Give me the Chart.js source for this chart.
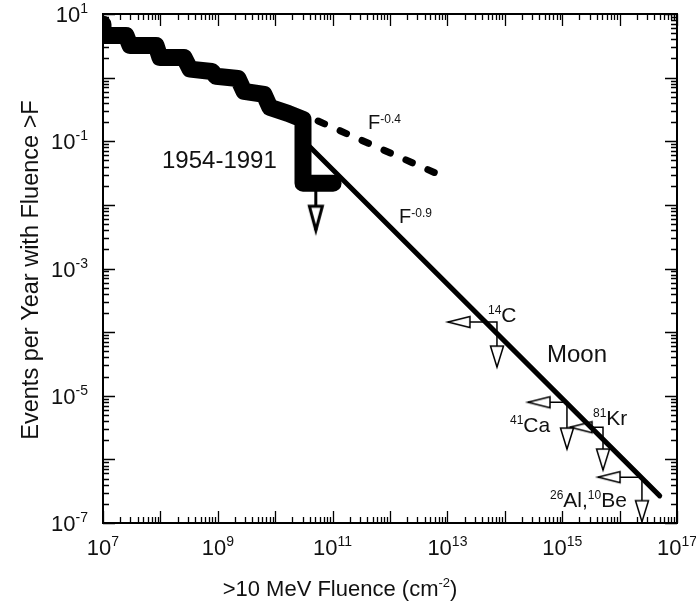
<!DOCTYPE html>
<html>
<head>
<meta charset="utf-8">
<script src="https://cdn.jsdelivr.net/npm/chart.js@4.4.0/dist/chart.umd.min.js"></script>
<style>
    html, body { margin: 0; padding: 0; background: #fff; }
    #wrap { width: 696px; height: 607px; }
</style>
</head>
<body>
<div id="wrap"><canvas id="fluenceChart"></canvas></div>
<script>
// Observed event record 1954-1991, drawn as a thick step outline
const obsFluence = [1e7, 1e7, 2.52e7, 2.95e7, 8.4e7, 9.8e7, 2.58e8, 3.28e8, 7.9e8, 9.3e8,
    2.25e9, 2.86e9, 6.4e9, 8.1e9, 1.67e10, 3.05e10, 3.05e10, 1.02e11];
const obsRate = [6.9, 4.6, 4.6, 3.2, 3.2, 2.08, 2.08, 1.36, 1.25, 1.05,
    0.97, 0.61, 0.545, 0.34, 0.274, 0.22, 0.0218, 0.0218];

// Upper limit under the last observed step
const limitFluence = [5.1e10, 5.1e10];
const limitRate = [0.0218, 0.0040];

// Power-law fits
const shallowFluence = [5.6e10, 7.4e12];   // F^-0.4
const shallowRate = [0.208, 0.0295];
const steepFluence = [3.05e10, 5.0e16];    // F^-0.9
const steepRate = [0.1045, 2.67e-7];

// Lunar radionuclide limits: corner point, left-arrow tip, down-arrow tip
const nuclides = ['14C', '41Ca', '81Kr', '26Al,10Be'];
const cornerFluence = [7.3e13, 1.21e15, 5.14e15, 2.45e16];
const cornerRate = [1.44e-4, 7.9e-6, 3.2e-6, 5.25e-7];
const leftTipFluence = [1.02e13, 2.53e14, 1.37e15, 4.21e15];
const downTipRate = [2.82e-5, 1.45e-6, 6.8e-7, 1.05e-7];

// Axis decades and labelled exponents
const xDecades = [7, 8, 9, 10, 11, 12, 13, 14, 15, 16, 17];
const yDecades = [-7, -6, -5, -4, -3, -2, -1, 0, 1];
const xLabelExps = [7, 9, 11, 13, 15, 17];
const yLabelExps = [1, -1, -3, -5, -7];

const FONT = '"Liberation Sans", Arial, Helvetica, sans-serif';
const font = size => `${size}px ${FONT}`;

// open arrowhead with its tip at the canvas centre
function arrowHead(dir, len, wid, lw) {
    const size = 2 * Math.ceil(len + lw + 2);
    const c = document.createElement('canvas');
    c.width = c.height = size;
    const g = c.getContext('2d');
    const m = size / 2;
    g.beginPath();
    if (dir === 'down') {
        g.moveTo(m, m);
        g.lineTo(m - wid / 2, m - len);
        g.lineTo(m + wid / 2, m - len);
    } else {
        g.moveTo(m, m);
        g.lineTo(m + len, m - wid / 2);
        g.lineTo(m + len, m + wid / 2);
    }
    g.closePath();
    g.fillStyle = '#fff';
    g.fill();
    g.lineWidth = lw;
    g.strokeStyle = '#000';
    g.stroke();
    return c;
}

const bigDown = arrowHead('down', 24, 13, 3);
const smallDown = arrowHead('down', 21, 13, 1.5);
const smallLeft = arrowHead('left', 22, 11, 1.5);

const pts = (xs, ys) => xs.map((x, i) => ({ x: x, y: ys[i] }));

// text with superscript pieces: parts = [[text, isSup], ...]
function richText(ctx, x, y, parts, size, align, supRatio = 0.6, raise = 0.38) {
    const supSize = Math.round(size * supRatio);
    const widths = parts.map(([t, sup]) => {
        ctx.font = font(sup ? supSize : size);
        return ctx.measureText(t).width;
    });
    const total = widths.reduce((a, b) => a + b, 0);
    let cx = align === 'center' ? x - total / 2 : align === 'right' ? x - total : x;
    ctx.textAlign = 'left';
    ctx.textBaseline = 'alphabetic';
    parts.forEach(([t, sup], i) => {
        ctx.font = font(sup ? supSize : size);
        ctx.fillText(t, cx, sup ? y - size * raise : y);
        cx += widths[i];
    });
}

// Frame with inward ticks on all four sides
const framePlugin = {
    id: 'frame',
    beforeDatasetsDraw(chart) {
        const { ctx, chartArea: { left, right, top, bottom } } = chart;
        const xs = chart.scales.x, ys = chart.scales.y;
        ctx.save();
        ctx.strokeStyle = '#000';
        ctx.lineWidth = 1.3;
        ctx.beginPath();
        xDecades.forEach(e => {
            for (let m = 1; m < 10; m++) {
                if (e === 17 && m > 1) break;
                const px = Math.round(xs.getPixelForValue(m * Math.pow(10, e))) + 0.5;
                const len = m === 1 ? 12 : 6;
                ctx.moveTo(px, bottom); ctx.lineTo(px, bottom - len);
                ctx.moveTo(px, top); ctx.lineTo(px, top + len);
            }
        });
        yDecades.forEach(e => {
            for (let m = 1; m < 10; m++) {
                if (e === 1 && m > 1) break;
                const py = Math.round(ys.getPixelForValue(m * Math.pow(10, e))) + 0.5;
                const len = m === 1 ? 12 : 6;
                ctx.moveTo(left, py); ctx.lineTo(left + len, py);
                ctx.moveTo(right, py); ctx.lineTo(right - len, py);
            }
        });
        ctx.stroke();
        ctx.lineWidth = 2;
        ctx.strokeRect(left, top, right - left, bottom - top);
        ctx.restore();
    }
};

// Tick labels, axis titles and annotations
const textPlugin = {
    id: 'texts',
    afterDraw(chart) {
        const { ctx, chartArea: { left, bottom } } = chart;
        const xs = chart.scales.x, ys = chart.scales.y;
        ctx.save();
        ctx.fillStyle = '#111';

        xLabelExps.forEach(e => {
            const px = xs.getPixelForValue(Math.pow(10, e));
            richText(ctx, px, bottom + 32, [['10', false], [String(e), true]], 22, 'center', 0.62, 0.4);
        });
        yLabelExps.forEach(e => {
            const py = ys.getPixelForValue(Math.pow(10, e));
            const exp = e < 0 ? '-' + (-e) : String(e);
            richText(ctx, left - 15, py + 8, [['10', false], [exp, true]], 22, 'right', 0.62, 0.4);
        });

        richText(ctx, 340, 596, [['>10 MeV Fluence (cm', false], ['-2', true], [')', false]], 22, 'center', 0.58, 0.4);

        ctx.save();
        ctx.translate(32, 270);
        ctx.rotate(-Math.PI / 2);
        ctx.font = font(23.5);
        ctx.textAlign = 'center';
        ctx.textBaseline = 'middle';
        ctx.fillText('Events per Year with Fluence >F', 0, 0);
        ctx.restore();

        ctx.font = font(24);
        ctx.textAlign = 'left';
        ctx.textBaseline = 'alphabetic';
        ctx.fillText('1954-1991', 162, 168);
        ctx.fillText('Moon', 547, 362);

        richText(ctx, 368, 129, [['F', false], ['-0.4', true]], 20, 'left', 0.6, 0.32);
        richText(ctx, 399, 223, [['F', false], ['-0.9', true]], 20, 'left', 0.6, 0.32);
        richText(ctx, 488, 322, [['14', true], ['C', false]], 21, 'left', 0.55, 0.38);
        richText(ctx, 510, 432, [['41', true], ['Ca', false]], 21, 'left', 0.55, 0.38);
        richText(ctx, 593, 425, [['81', true], ['Kr', false]], 21, 'left', 0.55, 0.38);
        richText(ctx, 550, 507, [['26', true], ['Al,', false], ['10', true], ['Be', false]], 21, 'left', 0.55, 0.38);
        ctx.restore();
    }
};

const datasets = [
    {
        label: '1954-1991',
        data: pts(obsFluence, obsRate),
        borderColor: '#000',
        borderWidth: 17,
        borderJoinStyle: 'round',
        borderCapStyle: 'round',
        pointRadius: 0,
        clip: 0
    },
    {
        label: 'limit',
        data: pts(limitFluence, limitRate),
        borderColor: '#000',
        borderWidth: 3,
        pointStyle: ['circle', bigDown],
        pointRadius: [0, 6]
    },
    {
        label: 'F^-0.9',
        data: pts(steepFluence, steepRate),
        borderColor: '#000',
        borderWidth: 5,
        borderCapStyle: 'round',
        pointRadius: 0
    },
    {
        label: 'F^-0.4',
        data: pts(shallowFluence, shallowRate),
        borderColor: '#000',
        borderWidth: 7,
        borderDash: [7, 17],
        borderCapStyle: 'round',
        pointRadius: 0
    }
];

nuclides.forEach((name, i) => {
    datasets.push({
        label: name,
        data: [
            { x: leftTipFluence[i], y: cornerRate[i] },
            { x: cornerFluence[i], y: cornerRate[i] },
            { x: cornerFluence[i], y: downTipRate[i] }
        ],
        borderColor: '#000',
        borderWidth: 1.5,
        borderJoinStyle: 'miter',
        pointStyle: [smallLeft, 'circle', smallDown],
        pointRadius: [6, 0, 6]
    });
});

new Chart(document.getElementById('fluenceChart'), {
    type: 'scatter',
    data: { datasets: datasets },
    options: {
        responsive: true,
        maintainAspectRatio: false,
        animation: false,
        showLine: true,
        layout: { padding: { left: 103, top: 14, right: 19, bottom: 84 } },
        scales: {
            x: { type: 'logarithmic', min: 1e7, max: 1e17, display: false },
            y: { type: 'logarithmic', min: 1e-7, max: 10, display: false }
        },
        plugins: {
            legend: { display: false },
            tooltip: { enabled: false }
        }
    },
    plugins: [framePlugin, textPlugin]
});
</script>
</body>
</html>
